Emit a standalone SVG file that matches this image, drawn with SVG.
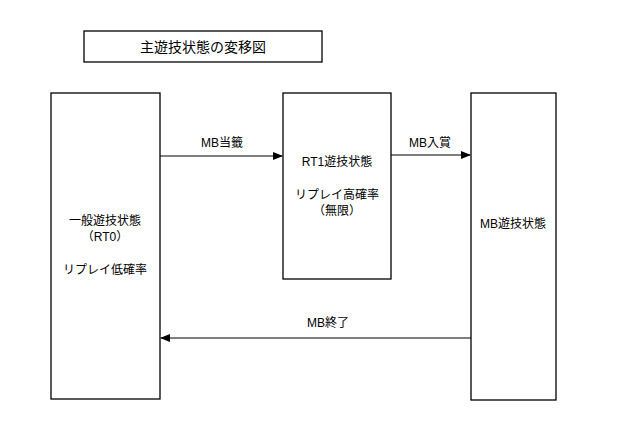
<svg xmlns="http://www.w3.org/2000/svg" width="640" height="422" viewBox="0 0 640 422">
<style>
rect{fill:#fff;stroke:#000;stroke-width:1.3}
text{font-family:"Liberation Sans","Noto Sans CJK JP",sans-serif;font-size:12px;text-anchor:middle;fill:#000}
.c{stroke:#000;stroke-width:1.2;fill:none}
</style>
<defs><marker id="a" markerWidth="10" markerHeight="8" refX="9" refY="4" orient="auto" markerUnits="userSpaceOnUse"><path d="M0,0L10,4L0,8z" fill="#000"/></marker></defs>
<rect width="640" height="422" style="stroke:none"/>
<g id="title"><rect x="84" y="31" width="238" height="31"/><text x="203" y="52" style="font-size:14px">主遊技状態の変移図</text></g>
<g id="normal"><rect x="51" y="93" width="109" height="306"/><text x="105" y="225">一般遊技状態</text><text x="105" y="241">（RT0）</text><text x="105" y="274">リプレイ低確率</text></g>
<g id="rt1"><rect x="283" y="93" width="108" height="186"/><text x="337" y="166">RT1遊技状態</text><text x="337" y="199">リプレイ高確率</text><text x="337" y="215">（無限）</text></g>
<g id="mb"><rect x="471" y="93" width="85" height="307"/><text x="513" y="228">MB遊技状態</text></g>
<g id="connectors">
<path class="c" d="M160,156H282" marker-end="url(#a)"/>
<path class="c" d="M391,155H470" marker-end="url(#a)"/>
<path class="c" d="M471,338H161" marker-end="url(#a)"/>
<text x="222" y="147">MB当籤</text>
<text x="430" y="147">MB入賞</text>
<text x="328" y="327">MB終了</text>
</g>
</svg>
